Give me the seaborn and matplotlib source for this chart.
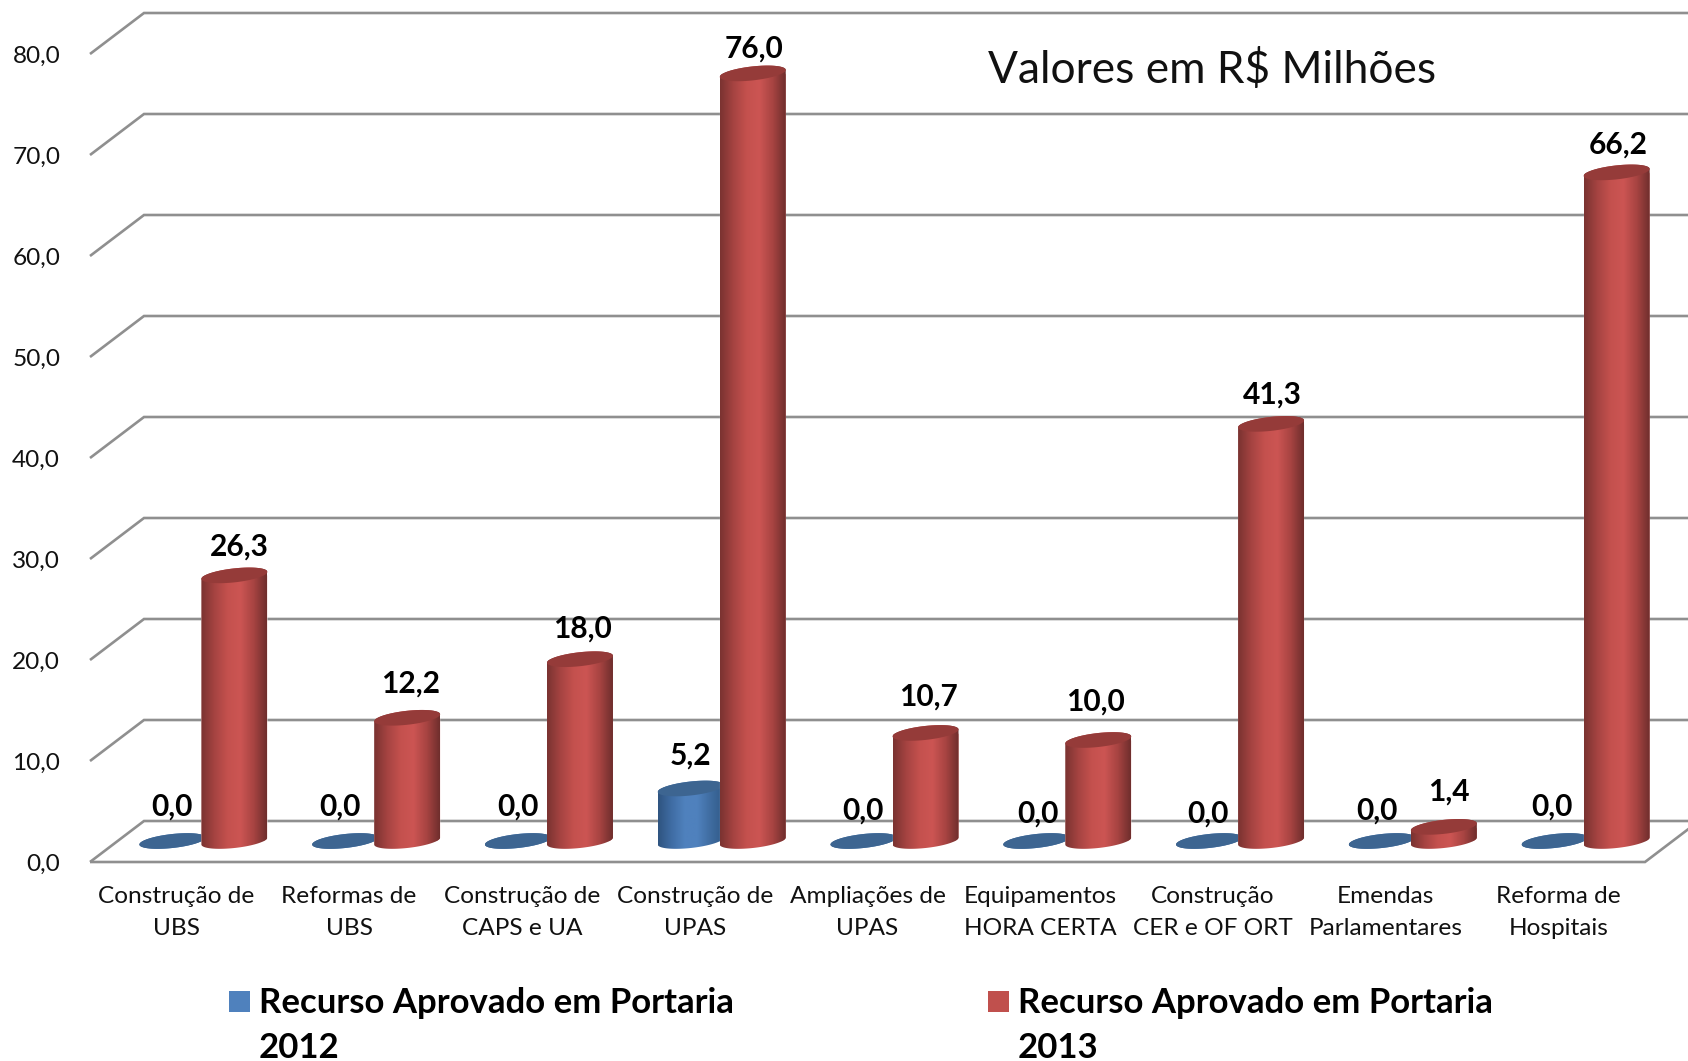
"""
plot.py - resource per type of work (R$ millions), Excel-style 3D cylinders.
"""

import numpy as np
import pandas as pd
import matplotlib
matplotlib.use('Agg')
import matplotlib.pyplot as plt
import seaborn as sns
from matplotlib.colors import LinearSegmentedColormap
from matplotlib.patches import Polygon, Rectangle
from matplotlib.path import Path

categories = ["Construção de\nUBS", "Reformas de\nUBS", "Construção de\nCAPS e UA",
              "Construção de\nUPAS", "Ampliações de\nUPAS", "Equipamentos\nHORA CERTA",
              "Construção\nCER e OF ORT", "Emendas\nParlamentares", "Reforma de\nHospitais"]
values_2012 = [0.0, 0.0, 0.0, 5.2, 0.0, 0.0, 0.0, 0.0, 0.0]
values_2013 = [26.3, 12.2, 18.0, 76.0, 10.7, 10.0, 41.3, 1.4, 66.2]
series_names = ["2012", "2013"]
y_ticks = [0, 10, 20, 30, 40, 50, 60, 70, 80]

# label nudges in pixels (dx, height above the top of the cylinder)
nudge_2012 = [(0, 34), (-5, 34), (0, 34), (0, 33), (-1, 30), (2, 27), (-1, 27), (-5, 30), (-3, 34)]
nudge_2013 = [(5, 29), (3, 34), (2, 31), (1, 25), (3, 36), (-3, 38), (1, 29), (5, 35), (2, 28)]

W, H = 1688, 1061
LEFT, RIGHT, Y0, Y80 = 90, 1645, 862, 54   # front plane of the chart, pixels
GRID = '#8f8f8f'
FONT = 'Lato'

sns.set_theme(style="white")
plt.rcParams['font.family'] = [FONT, 'DejaVu Sans']

cmap_blue = LinearSegmentedColormap.from_list('b', ['#2f5480', '#3f6ca3', '#4f81bd', '#4f81bd', '#3f6ca0', '#315a88'])
cmap_red = LinearSegmentedColormap.from_list('r', ['#7a3331', '#a54341', '#c4514e', '#cc5553', '#a84442', '#6f2e2d'])
cap_colors = ['#3d6591', '#953b39']
cmaps = [cmap_blue, cmap_red]


def axes_at(x0, x1, y0, y1):
    return fig.add_axes([x0 / W, 1 - y0 / H, (x1 - x0) / W, (y0 - y1) / H])


def ellipse_points(cx, cy, a, b, k, t0, t1):
    t = np.linspace(t0, t1, 60)
    return np.column_stack([cx + a * np.cos(t), cy + b * np.sin(t) + k * np.cos(t)])


df = pd.DataFrame({
    'categoria': categories * 2,
    'ano': np.repeat(series_names, len(categories)),
    'valor': values_2012 + values_2013,
})

fig = plt.figure(figsize=(W / 100, H / 100), dpi=100)
fig.patch.set_facecolor('white')

# frame: axis labels, floor and back wall
ax = axes_at(LEFT, RIGHT, Y0, Y80)
ax.set_xlim(-0.5, 8.5)
ax.set_ylim(0, 80)
px_x = (RIGHT - LEFT) / 9
px_y = (Y0 - Y80) / 80
depth_x = 54 / px_x
depth_y = 41 / px_y
for v in y_ticks:
    ax.plot([-0.5, -0.5 + depth_x, 8.5 + depth_x], [v, v + depth_y, v + depth_y],
            color=GRID, lw=1.9, clip_on=False, solid_joinstyle='miter', solid_capstyle='butt')
ax.plot([-0.5, 8.5, 8.5 + depth_x], [0, 0, depth_y], color=GRID, lw=1.9, clip_on=False,
        solid_joinstyle='miter', solid_capstyle='butt')
ax.set_xticks(range(len(categories)))
ax.set_xticklabels(categories, fontsize=17.6, color='#111111', linespacing=1.63)
ax.set_yticks(y_ticks)
ax.set_yticklabels([f"{v:.1f}".replace('.', ',') for v in y_ticks], fontsize=17.6, color='#111111')
ax.tick_params(axis='x', length=0, pad=17.5)
ax.tick_params(axis='y', length=0, pad=21.5)
for s in ax.spines.values():
    s.set_visible(False)

# cylinders stand on a plane half way into the depth of the floor
bars = axes_at(LEFT + 27, RIGHT + 27, Y0 - 21, Y80 - 21)
bars.patch.set_alpha(0)
sns.barplot(data=df, x='categoria', y='valor', hue='ano', hue_order=series_names,
            order=categories, palette=['#4f81bd', '#c0504d'], width=0.718, gap=-0.064,
            legend=False, errorbar=None, saturation=1, ax=bars)
bars.axis('off')

b_half = 7 / px_y    # half height of the ellipse
k_tilt = 3.5 / px_y  # the ellipse rises to the right

n = len(categories)
nudges = nudge_2012 + nudge_2013
for i, p in enumerate(bars.patches[:2 * n]):
    s = i // n
    x0, w, h = p.get_x(), p.get_width(), p.get_height()
    cx, a = x0 + w / 2, w / 2
    lower = ellipse_points(cx, 0, a, b_half, k_tilt, np.pi, 2 * np.pi)
    upper = ellipse_points(cx, h, a, b_half, k_tilt, 0, np.pi)
    outline = Path(np.vstack([lower, upper, lower[:1]]), closed=True)
    p.set_clip_path(outline, transform=bars.transData)
    p.set_clip_box(fig.bbox)
    p.set_zorder(3 + s)
    im = bars.imshow(np.linspace(0, 1, 128).reshape(1, -1), cmap=cmaps[s], aspect='auto',
                     extent=(x0, x0 + w, -2, h + 2), zorder=3 + s, interpolation='bilinear')
    im.set_clip_path(outline, transform=bars.transData)
    im.set_clip_box(fig.bbox)
    cap = ellipse_points(cx, h, a, b_half, k_tilt, 0, 2 * np.pi)
    bars.add_patch(Polygon(cap, closed=True, facecolor=cap_colors[s], edgecolor='none',
                           zorder=3.5 + s, clip_on=False))
    dx, dy = nudges[i]
    bars.annotate(f"{h:.1f}".replace('.', ','), (cx, h), xytext=(dx, dy), textcoords='offset pixels',
                  ha='center', va='center', fontsize=21.5, fontweight='bold', color='black',
                  annotation_clip=False, zorder=8)
bars.set_xlim(-0.5, 8.5)
bars.set_ylim(0, 80)

fig.text(1212 / W, 1 - 70 / H, "Valores em R$ Milhões", fontsize=31.9, color='#111111', ha='center', va='center')

# legend with the square beside the first text line
legend_x = [229, 988]
legend_colors = ['#4f81bd', '#c0504d']
for x, c, name in zip(legend_x, legend_colors, series_names):
    fig.add_artist(Rectangle((x / W, 1 - 1012 / H), 21 / W, 21 / H, transform=fig.transFigure,
                             facecolor=c, edgecolor='none'))
    fig.text((x + 30) / W, 1 - 1003 / H, "Recurso Aprovado em Portaria", fontsize=25,
             fontweight='bold', color='black', va='center')
    fig.text((x + 30) / W, 1 - 1048 / H, name, fontsize=25, fontweight='bold', color='black', va='center')

fig.savefig('out.png', dpi=100, facecolor='white')
